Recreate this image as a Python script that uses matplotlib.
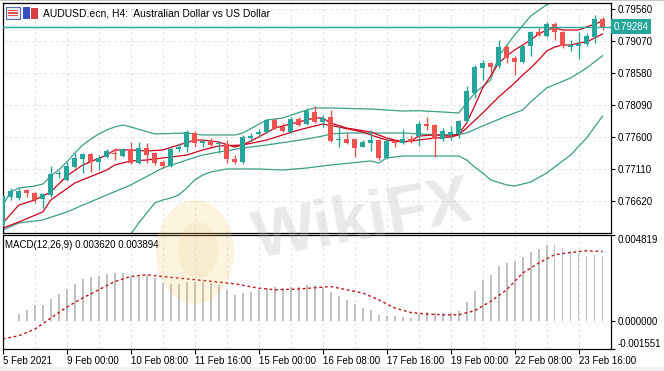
import matplotlib
matplotlib.use('Agg')
import matplotlib.pyplot as plt
from matplotlib.patches import Rectangle, Ellipse
from matplotlib.ticker import FormatStrFormatter

plt.rcParams['font.family'] = ['Liberation Sans', 'DejaVu Sans']

# AUDUSD H4 candles (bar 0 = 5 Feb 16:00)
opens = [0.76257, 0.76684, 0.76669, 0.76791, 0.76745, 0.76654, 0.76715, 0.77028, 0.76944, 0.77142,
         0.77264, 0.77341, 0.77219, 0.77295, 0.77356, 0.77310, 0.77417, 0.77203, 0.77432, 0.77356,
         0.77219, 0.77157, 0.77417, 0.77447, 0.77661, 0.77508, 0.77524, 0.77486, 0.77493, 0.77264,
         0.77219, 0.77585, 0.77646, 0.77676, 0.77859, 0.77753, 0.77676, 0.77875, 0.77798, 0.77982,
         0.77829, 0.77905, 0.77547, 0.77562, 0.77562, 0.77447, 0.77508, 0.77554, 0.77280, 0.77539,
         0.77508, 0.77569, 0.77615, 0.77798, 0.77783, 0.77569, 0.77631, 0.77646, 0.77844, 0.78271,
         0.78653, 0.78729, 0.78683, 0.78973, 0.78806, 0.78745, 0.78989, 0.79202, 0.79141, 0.79324,
         0.79202, 0.78981, 0.78996, 0.79012, 0.79126, 0.79401]
highs = [0.76715, 0.76822, 0.76822, 0.76806, 0.76761, 0.76745, 0.77157, 0.77081, 0.77219, 0.77356,
         0.77356, 0.77356, 0.77325, 0.77417, 0.77432, 0.77432, 0.77524, 0.77524, 0.77508, 0.77371,
         0.77249, 0.77432, 0.77508, 0.77707, 0.77692, 0.77554, 0.77585, 0.77539, 0.77554, 0.77325,
         0.77631, 0.77661, 0.77722, 0.77875, 0.77890, 0.77814, 0.77905, 0.77905, 0.78043, 0.78073,
         0.77936, 0.78012, 0.77768, 0.77661, 0.77569, 0.77554, 0.77707, 0.77569, 0.77585, 0.77554,
         0.77722, 0.77631, 0.77844, 0.77905, 0.77798, 0.77737, 0.77768, 0.77859, 0.78378, 0.78699,
         0.78775, 0.78745, 0.79080, 0.79004, 0.78836, 0.79004, 0.79218, 0.79279, 0.79355, 0.79355,
         0.79218, 0.79080, 0.79202, 0.79187, 0.79462, 0.79431]
lows = [0.76242, 0.76639, 0.76639, 0.76684, 0.76593, 0.76517, 0.76684, 0.76974, 0.76929, 0.77134,
        0.77051, 0.77066, 0.77096, 0.77280, 0.77249, 0.77295, 0.77188, 0.77188, 0.77203, 0.77173,
        0.77127, 0.77142, 0.77371, 0.77371, 0.77447, 0.77447, 0.77432, 0.77356, 0.77203, 0.77188,
        0.77188, 0.77524, 0.77600, 0.77661, 0.77722, 0.77676, 0.77661, 0.77768, 0.77783, 0.77814,
        0.77753, 0.77524, 0.77447, 0.77493, 0.77295, 0.77440, 0.77386, 0.77249, 0.77264, 0.77447,
        0.77493, 0.77508, 0.77463, 0.77707, 0.77295, 0.77539, 0.77554, 0.77585, 0.77829, 0.78195,
        0.78470, 0.78577, 0.78653, 0.78729, 0.78546, 0.78729, 0.78836, 0.79141, 0.79126, 0.79080,
        0.78958, 0.78912, 0.78790, 0.78989, 0.79034, 0.79233]
closes = [0.76700, 0.76776, 0.76776, 0.76745, 0.76639, 0.76730, 0.77035, 0.77051, 0.77157, 0.77280,
          0.77341, 0.77219, 0.77280, 0.77386, 0.77333, 0.77417, 0.77203, 0.77432, 0.77325, 0.77203,
          0.77157, 0.77417, 0.77447, 0.77676, 0.77508, 0.77539, 0.77478, 0.77508, 0.77264, 0.77219,
          0.77600, 0.77615, 0.77676, 0.77859, 0.77737, 0.77692, 0.77875, 0.77783, 0.77997, 0.77829,
          0.77890, 0.77539, 0.77562, 0.77508, 0.77432, 0.77524, 0.77554, 0.77280, 0.77539, 0.77508,
          0.77569, 0.77524, 0.77798, 0.77768, 0.77569, 0.77692, 0.77669, 0.77844, 0.78302, 0.78668,
          0.78729, 0.78668, 0.78973, 0.78806, 0.78745, 0.78989, 0.79202, 0.79157, 0.79324, 0.79202,
          0.78989, 0.79004, 0.79019, 0.79134, 0.79401, 0.79284]

# bollinger bands, read at selected bars
bb_up_idx = [0, 1, 2, 3, 4, 5, 6, 7, 8, 9, 10, 11, 12, 13, 14, 15, 16, 19, 23, 25, 29, 30, 33, 35, 38, 39,
             41, 46, 50, 52, 55, 57, 58, 59, 61, 62, 64, 66, 68, 70, 72, 75]
bb_up = [0.76562, 0.76761, 0.76822, 0.76837, 0.76852, 0.76883, 0.77005, 0.77096, 0.77219, 0.77356,
         0.77478, 0.77569, 0.77646, 0.77707, 0.77753, 0.77783, 0.77753, 0.77646, 0.77661, 0.77631,
         0.77631, 0.77661, 0.77859, 0.77890, 0.78012, 0.78043, 0.78043, 0.78027, 0.77997, 0.78001,
         0.77982, 0.77966, 0.78119, 0.78271, 0.78470, 0.78836, 0.79157, 0.79446, 0.79619, 0.79706,
         0.79736, 0.79736]
bb_mid_idx = [0, 2, 5, 8, 13, 16, 20, 23, 25, 27, 30, 33, 38, 40, 41, 43, 48, 50, 54, 57, 58, 60, 63,
              65, 66, 68, 71, 73, 75]
bb_mid = [0.76181, 0.76288, 0.76333, 0.76456, 0.76715, 0.76868, 0.77127, 0.77249, 0.77325, 0.77371,
          0.77432, 0.77478, 0.77569, 0.77615, 0.77646, 0.77661, 0.77661, 0.77661, 0.77635, 0.77635,
          0.77661, 0.77768, 0.77920, 0.78012, 0.78135, 0.78348, 0.78500, 0.78653, 0.78841]
bb_low_idx = [0, 5, 8, 10, 13, 15, 16, 17, 18, 19, 20, 21, 22, 23, 24, 25, 26, 28, 32, 35, 38, 41, 46,
              47, 48, 50, 54, 57, 58, 59, 60, 61, 63, 64, 66, 68, 71, 73, 75]
bb_low = [0.75799, 0.75784, 0.75693, 0.75647, 0.75723, 0.75906, 0.76120, 0.76288, 0.76440, 0.76593,
          0.76639, 0.76669, 0.76715, 0.76822, 0.76944, 0.77020, 0.77066, 0.77112, 0.77112, 0.77096,
          0.77127, 0.77173, 0.77234, 0.77203, 0.77280, 0.77310, 0.77310, 0.77310, 0.77249, 0.77142,
          0.77051, 0.76944, 0.76868, 0.76852, 0.76913, 0.77051, 0.77325, 0.77585, 0.77920]

# two moving averages
ma_fast_idx = [0, 2, 4, 6, 8, 10, 13, 14, 16, 18, 20, 22, 24, 25, 27, 29, 30, 32, 34, 37, 39, 40, 41, 43,
               46, 48, 50, 51, 52, 54, 56, 57, 58, 59, 60, 61, 62, 63, 64, 65, 66, 67, 68, 69, 70, 71,
               72, 73, 74, 75]
ma_fast = [0.76288, 0.76562, 0.76639, 0.76761, 0.77005, 0.77173, 0.77325, 0.77402, 0.77402, 0.77386,
           0.77402, 0.77478, 0.77554, 0.77554, 0.77524, 0.77447, 0.77478, 0.77600, 0.77737, 0.77829,
           0.77890, 0.77890, 0.77814, 0.77737, 0.77676, 0.77585, 0.77524, 0.77539, 0.77615, 0.77631,
           0.77615, 0.77646, 0.77814, 0.78073, 0.78348, 0.78531, 0.78729, 0.78836, 0.78928, 0.79004,
           0.79080, 0.79172, 0.79233, 0.79263, 0.79233, 0.79233, 0.79233, 0.79279, 0.79324, 0.79370]
ma_slow_idx = [0, 2, 5, 6, 9, 13, 14, 16, 18, 20, 23, 25, 27, 30, 33, 35, 37, 39, 40, 42, 45, 46, 48,
               50, 52, 54, 56, 57, 58, 60, 61, 62, 63, 64, 65, 66, 67, 68, 69, 70, 71, 72, 73, 74, 75]
ma_slow = [0.76211, 0.76303, 0.76456, 0.76639, 0.76898, 0.77096, 0.77173, 0.77234, 0.77249, 0.77280,
           0.77325, 0.77402, 0.77463, 0.77478, 0.77554, 0.77631, 0.77707, 0.77768, 0.77798, 0.77753,
           0.77676, 0.77631, 0.77554, 0.77524, 0.77554, 0.77585, 0.77600, 0.77631, 0.77737, 0.77966,
           0.78088, 0.78210, 0.78317, 0.78424, 0.78546, 0.78653, 0.78775, 0.78912, 0.78973, 0.79004,
           0.79004, 0.79034, 0.79050, 0.79111, 0.79172]

# MACD(12,26,9)
macd_hist = [0.00001, 0.00004, 0.00042, 0.00064, 0.00092, 0.00092, 0.00126, 0.00154, 0.00182, 0.00209,
             0.00237, 0.00245, 0.00254, 0.00264, 0.00269, 0.00269, 0.00250, 0.00250, 0.00260, 0.00241,
             0.00213, 0.00209, 0.00209, 0.00222, 0.00222, 0.00222, 0.00213, 0.00204, 0.00176, 0.00148,
             0.00158, 0.00163, 0.00176, 0.00185, 0.00191, 0.00185, 0.00194, 0.00194, 0.00204, 0.00204,
             0.00194, 0.00166, 0.00142, 0.00120, 0.00098, 0.00074, 0.00064, 0.00036, 0.00031, 0.00027,
             0.00023, 0.00020, 0.00042, 0.00049, 0.00046, 0.00046, 0.00046, 0.00060, 0.00105, 0.00170,
             0.00228, 0.00260, 0.00310, 0.00328, 0.00338, 0.00359, 0.00387, 0.00405, 0.00426, 0.00427,
             0.00409, 0.00394, 0.00381, 0.00362, 0.00368, 0.00362]
sig_idx = [0, 2, 4, 6, 8, 10, 12, 14, 16, 18, 20, 25, 29, 32, 34, 37, 41, 43, 45, 47, 49, 51, 53, 55,
           57, 59, 61, 63, 65, 67, 69, 71, 73, 75]
macd_sig = [-0.00099, -0.00081, -0.00044, 0.00018, 0.00079, 0.00130, 0.00176, 0.00222, 0.00250, 0.00260,
            0.00250, 0.00228, 0.00209, 0.00185, 0.00176, 0.00180, 0.00194, 0.00176, 0.00158, 0.00120,
            0.00074, 0.00049, 0.00040, 0.00036, 0.00036, 0.00059, 0.00111, 0.00176, 0.00269, 0.00325,
            0.00372, 0.00384, 0.00394, 0.003894]

price_ticks = [0.76620, 0.77110, 0.77600, 0.78090, 0.78580, 0.79070, 0.79560]
macd_ticks = [-0.001551, 0.0, 0.004819]
macd_tick_labels = ['-0.001551', '0.000000', '0.004819']
date_pos = [0, 8, 16, 24, 32, 40, 48, 56, 64, 72]
date_labels = ['5 Feb 2021', '9 Feb 00:00', '10 Feb 08:00', '11 Feb 16:00', '15 Feb 00:00',
               '16 Feb 08:00', '17 Feb 16:00', '19 Feb 00:00', '22 Feb 08:00', '23 Feb 16:00']

W, H = 664, 371
def fx(px):
    return px / W
def fy(py):
    return 1 - py / H

bull = '#26a69a'
bear = '#ef5350'
band = '#3a9e88'
mared = '#d0021b'
gridc = '#e2e2e2'

fig = plt.figure(figsize=(6.64, 3.71), dpi=100)
ax1 = fig.add_axes([fx(2.7), fy(233), fx(611) - fx(2.7), fy(3) - fy(233)])
ax2 = fig.add_axes([fx(2.7), fy(349), fx(611) - fx(2.7), fy(235) - fy(349)])

n = len(closes)
xs = list(range(n))
cols = [bull if c >= o else bear for o, c in zip(opens, closes)]
bottoms = [min(o, c) for o, c in zip(opens, closes)]
heights = [max(abs(c - o), 0.0001) for o, c in zip(opens, closes)]

# grid
for a in (ax1, ax2):
    for k in range(4, n + 1, 4):
        a.axvline(k, color=gridc, lw=0.7, ls=(0, (3, 3)), zorder=0)
ax1.grid(True, axis='y', color=gridc, lw=0.7, ls=(0, (3, 3)), zorder=0)

ax1.plot(bb_up_idx, bb_up, color=band, lw=0.9)
ax1.plot(bb_mid_idx, bb_mid, color=band, lw=0.9)
ax1.plot(bb_low_idx, bb_low, color=band, lw=0.9)
ax1.plot(ma_slow_idx, ma_slow, color=mared, lw=0.9)
ax1.plot(ma_fast_idx, ma_fast, color=mared, lw=0.9)

ax1.vlines(xs, lows, highs, colors=cols, lw=1, zorder=3)
ax1.bar(xs, heights, bottom=bottoms, width=0.62, color=cols, lw=0, zorder=4)

ax1.axhline(closes[-1], color=bull, lw=1, zorder=5)
ax1.text(1.004, closes[-1], '%.5f' % closes[-1], transform=ax1.get_yaxis_transform(),
         color='white', fontsize=7, va='center', ha='left', clip_on=False,
         bbox=dict(boxstyle='square,pad=0.25', facecolor=bull, edgecolor='none'))

ax1.set_xlim(-0.0125, 76.05)
ax1.set_ylim(0.76135, 0.79645)
ax1.yaxis.tick_right()
ax1.set_yticks(price_ticks)
ax1.yaxis.set_major_formatter(FormatStrFormatter('%.5f'))
ax1.tick_params(axis='y', direction='out', length=3, width=0.8, pad=2, labelsize=7)
ax1.tick_params(axis='x', bottom=False, labelbottom=False)

# MACD window
ax2.bar(xs, macd_hist, width=0.22, color='#c0c0c0', lw=0)
ax2.plot(sig_idx, macd_sig, color='#c0141c', lw=1, ls=(0, (2, 2)))
ax2.set_xlim(-0.0125, 76.05)
ax2.set_ylim(-0.001551, 0.004819)
ax2.yaxis.tick_right()
ax2.set_yticks(macd_ticks)
ax2.set_yticklabels(macd_tick_labels)
ax2.tick_params(axis='y', direction='out', length=3, width=0.8, pad=2, labelsize=7)
labs = ax2.get_yticklabels()
labs[0].set_va('bottom')
labs[2].set_va('top')
ax2.set_xticks(date_pos)
ax2.set_xticklabels(date_labels, ha='left')
ax2.tick_params(axis='x', direction='out', length=3.5, width=0.8, pad=1.5, labelsize=7)

for a in (ax1, ax2):
    for s in a.spines.values():
        s.set_color('black')
        s.set_linewidth(0.9)

fig.text(fx(43), fy(13.5), 'AUDUSD.ecn, H4:  Australian Dollar vs US Dollar', fontsize=7.5,
         va='center', ha='left')
fig.text(fx(5), fy(245), 'MACD(12,26,9) 0.003620 0.003894', fontsize=7, va='center', ha='left')

# little window icons next to the title
fig.add_artist(Rectangle((fx(6), fy(19)), 14 / W, 12 / H, transform=fig.transFigure,
                         facecolor='#eef0fa', edgecolor='#5a6aa8', lw=0.8))
for yy in (10.5, 13, 15.5):
    fig.add_artist(Rectangle((fx(8), fy(yy + 0.8)), 10 / W, 1.4 / H, transform=fig.transFigure,
                             facecolor='#e05050', edgecolor='none'))
fig.add_artist(Rectangle((fx(23), fy(19)), 7 / W, 12 / H, transform=fig.transFigure,
                         facecolor='#3550c8', edgecolor='none'))
fig.add_artist(Rectangle((fx(30.5), fy(19)), 7 / W, 11 / H, transform=fig.transFigure,
                         facecolor='#d84040', edgecolor='none'))

# watermark
fig.add_artist(Ellipse((fx(195), fy(252)), 78 / W, 104 / H, transform=fig.transFigure,
                       facecolor='#f4c860', edgecolor='none', alpha=0.2))
fig.add_artist(Ellipse((fx(198), fy(250)), 40 / W, 56 / H, transform=fig.transFigure,
                       facecolor='#e8a040', edgecolor='none', alpha=0.1))
fig.text(fx(363), fy(222), 'WikiFX', fontsize=48, weight='bold', color='#b8aeae', alpha=0.28,
         rotation=10, ha='center', va='center')

fig.add_artist(Rectangle((0, 0), 1, 4 / H, transform=fig.transFigure, facecolor='#efefef',
                         edgecolor='none'))
fig.add_artist(Rectangle((0, fy(1.2)), 1, 1.2 / H, transform=fig.transFigure, facecolor='#c8c8c8',
                         edgecolor='none'))

fig.savefig('out.png', dpi=100)
